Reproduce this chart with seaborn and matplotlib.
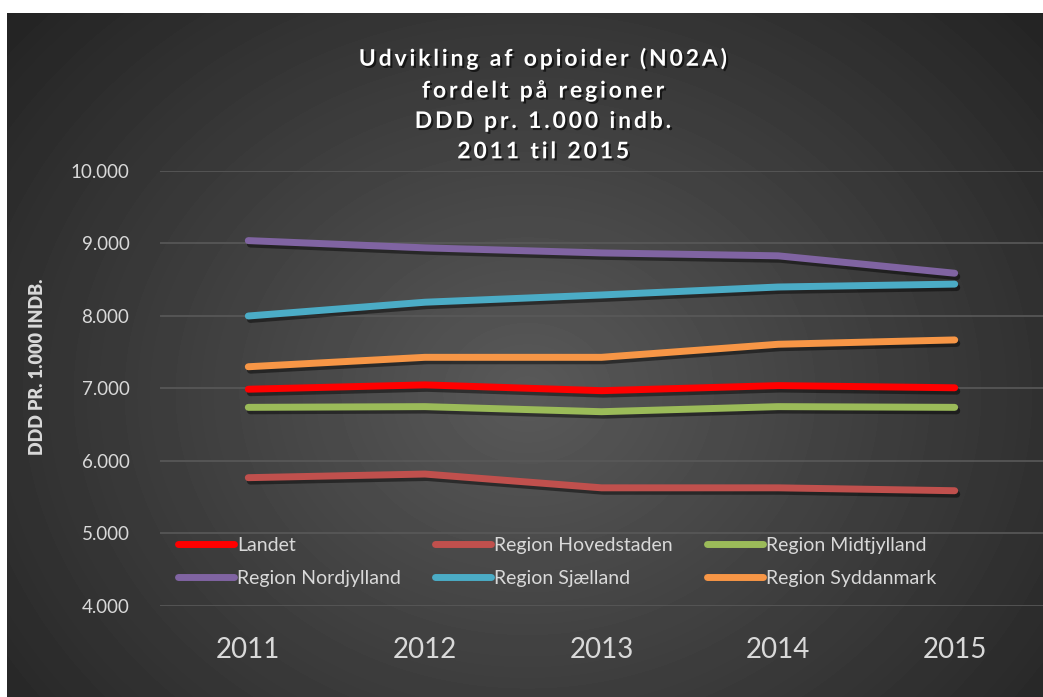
import numpy as np
import pandas as pd
import matplotlib
matplotlib.use('Agg')
import matplotlib.pyplot as plt
import matplotlib.patheffects as pe
from matplotlib.ticker import FuncFormatter
import seaborn as sns

years = ['2011', '2012', '2013', '2014', '2015']
series_names = ['Landet', 'Region Hovedstaden', 'Region Midtjylland',
                'Region Nordjylland', 'Region Sjælland', 'Region Syddanmark']
landet = [6990, 7050, 6970, 7040, 7010]
hovedstaden = [5770, 5820, 5630, 5630, 5590]
midtjylland = [6740, 6750, 6680, 6750, 6740]
nordjylland = [9040, 8940, 8870, 8830, 8590]
sjaelland = [8000, 8190, 8290, 8400, 8440]
syddanmark = [7300, 7430, 7430, 7610, 7670]
colors = ['#ff0000', '#c0504d', '#9bbb59', '#8064a2', '#4bacc6', '#f79646']

values = [landet, hovedstaden, midtjylland, nordjylland, sjaelland, syddanmark]
df = pd.DataFrame([(y, n, v) for n, vals in zip(series_names, values) for y, v in zip(years, vals)],
                  columns=['year', 'region', 'ddd'])

sns.set_theme(style='dark')
plt.rcParams['font.family'] = ['Lato', 'DejaVu Sans']
txt = '#d9d9d9'

fig = plt.figure(figsize=(10.43, 6.97), dpi=100)
fig.patch.set_facecolor('white')

# dark radial gradient background
bg = fig.add_axes([7 / 1043, 0, 1 - 7 / 1043, 684 / 697])
yy, xx = np.mgrid[0:684, 0:1036]
r = np.sqrt(((xx - 520) / 620) ** 2 + ((yy - 380) / 520) ** 2)
shade = np.clip(0.35 - 0.19 * r, 0.14, 0.35)
bg.imshow(shade, cmap='gray', vmin=0, vmax=1, aspect='auto', origin='upper')
bg.set_axis_off()

ax = fig.add_axes([160 / 1043, 1 - 606 / 697, 1 - 160 / 1043, (606 - 171) / 697])
ax.patch.set_alpha(0)

sns.lineplot(data=df, x='year', y='ddd', hue='region', palette=colors, sort=False,
             linewidth=5, ax=ax, legend=True)
for ln in ax.get_lines():
    ln.set_solid_capstyle('round')
    ln.set_solid_joinstyle('round')
    ln.set_path_effects([pe.SimpleLineShadow(offset=(1.5, -2.5), shadow_color='black', alpha=0.45),
                         pe.Normal()])

ax.set_xlim(-0.5, 4.5)
ax.set_ylim(4000, 10000)
ax.set_yticks(range(4000, 10001, 1000))
ax.yaxis.set_major_formatter(FuncFormatter(lambda v, p: f'{v:,.0f}'.replace(',', '.')))
ax.grid(axis='y', color='#595959', linewidth=1.2)
ax.grid(axis='x', visible=False)
for s in ax.spines.values():
    s.set_visible(False)
ax.tick_params(axis='y', colors=txt, labelsize=13.5, pad=22, length=0)
ax.tick_params(axis='x', colors=txt, labelsize=20, pad=22, length=0)
ax.set_xlabel('')
ax.set_ylabel('')

fig.text(38 / 1043, 1 - 367 / 697, 'DDD PR. 1.000 INDB.', rotation=90, color=txt,
         fontsize=13, fontweight='heavy', ha='center', va='center')

# letter-spaced title like the original
title_lines = ['Udvikling af opioider (N02A)', 'fordelt på regioner',
               'DDD pr. 1.000 indb.', '2011 til 2015']
title = '\n'.join('\u2009'.join(line) for line in title_lines)
fig.text(543 / 1043, 1 - 105 / 697, title, color='white', fontsize=16.5, fontweight='bold',
         ha='center', va='center', linespacing=1.55, multialignment='center',
         path_effects=[pe.withSimplePatchShadow(offset=(1.5, -1.5), shadow_rgbFace='black', alpha=0.6)])

h, l = ax.get_legend_handles_labels()
for hh in h:
    hh.set_linewidth(5)
    hh.set_solid_capstyle('round')
    hh.set_path_effects([])
order = [0, 3, 1, 4, 2, 5]
leg = ax.legend([h[i] for i in order], [l[i] for i in order], ncol=3, frameon=False,
                loc='upper left', bbox_to_anchor=(168 / 1043, 1 - 527 / 697),
                bbox_transform=fig.transFigure, fontsize=14, handlelength=2.9,
                handletextpad=0.15, columnspacing=1.75, labelspacing=0.85, borderpad=0)
for t in leg.get_texts():
    t.set_color(txt)

fig.savefig('out.png', dpi=100)
